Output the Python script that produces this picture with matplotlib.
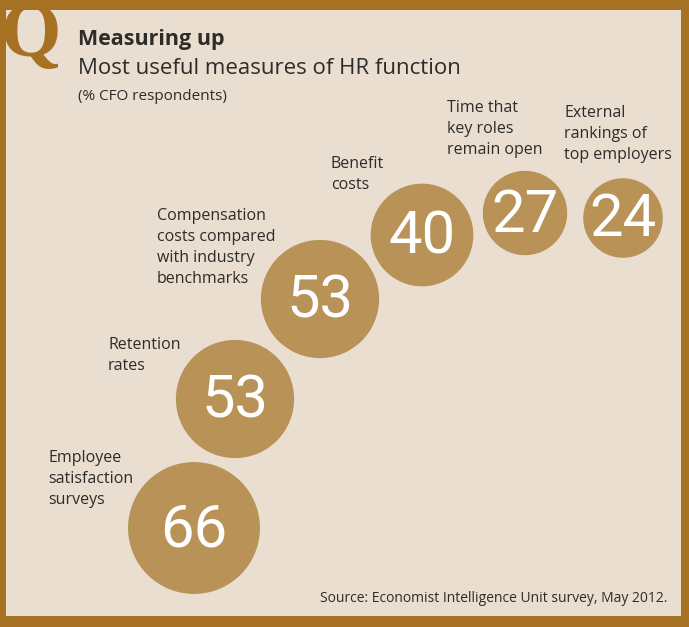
import numpy as np
import matplotlib
matplotlib.use("Agg")
import matplotlib.pyplot as plt
from matplotlib import font_manager
from matplotlib.patches import Rectangle

# data
measures = ["Employee\nsatisfaction\nsurveys",
            "Retention\nrates",
            "Compensation\ncosts compared\nwith industry\nbenchmarks",
            "Benefit\ncosts",
            "Time that\nkey roles\nremain open",
            "External\nrankings of\ntop employers"]
values = [66, 53, 53, 40, 27, 24]

# layout (pixels, y down)
cx = [194, 235, 320, 422, 525, 623]
cy = [528, 399, 299, 235, 213, 218]
lab_x = [48, 108, 157, 331, 447, 564]
lab_y = [450, 337, 208, 156, 100, 105]

BORDER = "#A67123"
BG = "#E9DED0"
BUBBLE = "#B89257"
INK = "#2E2C2A"


def pick(names):
    for n in names:
        try:
            font_manager.findfont(font_manager.FontProperties(family=n), fallback_to_default=False)
            return n
        except Exception:
            pass
    return "DejaVu Sans"


txt_font = pick(["Open Sans", "Lato", "DejaVu Sans"])
num_font = pick(["Liberation Sans Narrow", "Roboto", "DejaVu Sans"])
q_font = pick(["Liberation Serif", "DejaVu Serif"])

fig = plt.figure(figsize=(6.89, 6.27), dpi=100)
fig.patch.set_facecolor(BORDER)
ax = fig.add_axes([0, 0, 1, 1])
ax.set_xlim(0, 689)
ax.set_ylim(627, 0)
ax.axis("off")

ax.add_patch(Rectangle((6, 10), 675, 606, facecolor=BG, edgecolor="none", zorder=0))

# big Q, merges into the frame
ax.text(0, 2, "Q", fontsize=56, fontweight="bold", family=q_font,
        color=BORDER, ha="left", va="top", zorder=1)

# bubbles, area proportional to value
ax.scatter(cx, cy, s=np.array(values) * 136.7, color=BUBBLE, edgecolors="none", zorder=2)
for x, y, v in zip(cx, cy, values):
    ax.text(x, y + 2, str(v), fontsize=43, family=num_font, color="white",
            ha="center", va="center", zorder=3)

for x, y, t in zip(lab_x, lab_y, measures):
    ax.text(x, y, t, fontsize=11.5, family=txt_font, color=INK, ha="left", va="top",
            linespacing=1.42, zorder=3)

ax.text(78, 40, "Measuring up", fontsize=15.5, fontweight="bold", family=txt_font,
        color=INK, ha="left", va="center")
ax.text(78, 69, "Most useful measures of HR function", fontsize=16, family=txt_font,
        color=INK, ha="left", va="center")
ax.text(78, 96, "(% CFO respondents)", fontsize=11, family=txt_font,
        color=INK, ha="left", va="center")
ax.text(667, 599, "Source: Economist Intelligence Unit survey, May 2012.", fontsize=10,
        family=txt_font, color=INK, ha="right", va="center")

fig.savefig("out.png", dpi=100, facecolor=BORDER)
